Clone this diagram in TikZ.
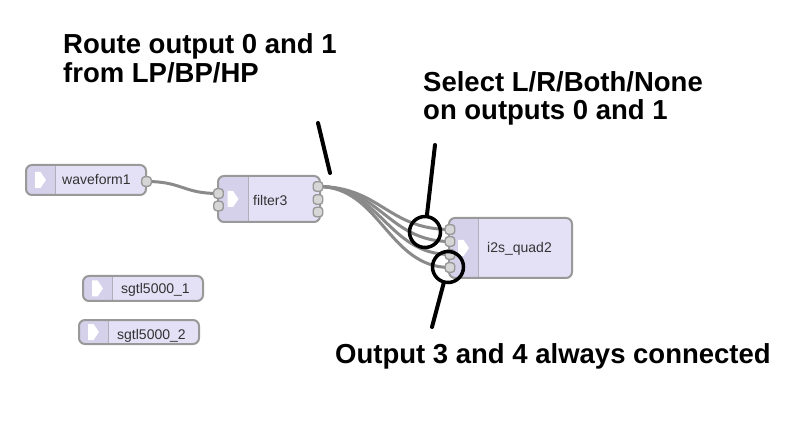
\documentclass[tikz,border=0pt]{standalone}
\usepackage{fontspec}
\setmainfont{Liberation Sans}
\definecolor{nodefill}{HTML}{E4E0F6}
\definecolor{iconfill}{HTML}{D5D1EA}
\definecolor{nodeborder}{HTML}{999999}
\definecolor{portfill}{HTML}{D6D6D6}
\definecolor{wirecol}{HTML}{8A8A8A}
\definecolor{lblcol}{HTML}{333333}
\pgfdeclarelayer{boxes}
\pgfdeclarelayer{wires}
\pgfsetlayers{boxes,wires,main}
\tikzset{
  nodebox/.style={rectangle, rounded corners=6pt, fill=nodefill, inner sep=0pt, outer sep=0pt},
  boxline/.style={draw=nodeborder, line width=2pt, rounded corners=6pt},
  divline/.style={draw=nodeborder!60!iconfill, line width=1pt},
  port/.style={rectangle, rounded corners=3pt, draw=nodeborder, fill=portfill, line width=1.4pt, minimum width=9.5pt, minimum height=9.5pt, inner sep=0pt},
  wire/.style={draw=wirecol, line width=3pt},
  lbl/.style={font=\fontsize{14}{16}\selectfont, text=lblcol, inner sep=0pt},
  note/.style={font=\fontsize{27.5}{30}\selectfont\bfseries, text=black, inner sep=0pt, anchor=base west},
  ring/.style={circle, draw=black, line width=3.5pt, minimum size=31pt, inner sep=0pt},
  pointer/.style={draw=black, line width=4pt, line cap=round}
}
% name, x1, y1, x2, y2, divider x, label x, label baseline, label
\newcommand{\audionode}[9]{%
  \begin{pgfonlayer}{boxes}
  \node[nodebox, minimum width={(#4-#2)*1pt}, minimum height={(#5-#3)*1pt}] (#1) at ({(#2+#4)/2},{(#3+#5)/2}) {};
  \begin{scope}
    \clip[rounded corners=6pt] (#1.south west) rectangle (#1.north east);
    \fill[iconfill] (#1.south west) rectangle (#6,#3);
  \end{scope}
  \draw[divline] (#6,#3) -- (#6,#5);
  \draw[boxline] (#1.south west) rectangle (#1.north east);
  \fill[white, shift={({(#2+#6)/2},{(#3+#5)/2})}] (-5.5,-8) -- (0,-8) -- (5.5,0) -- (0,8) -- (-5.5,8) -- cycle;
  \node[lbl, anchor=base west] (#1-lbl) at (#7,#8) {#9};
  \end{pgfonlayer}}
\begin{document}
\begin{tikzpicture}[x=1pt, y=-1pt]
\begin{pgfonlayer}{boxes}
\useasboundingbox[fill=white] (0,0) rectangle (787,446);
\end{pgfonlayer}

\audionode{wave}{26}{165}{146}{195}{55}{62}{185}{waveform1}
\audionode{filt}{218}{176}{320}{222}{248}{253}{206}{filter3}
\audionode{i2s}{449}{218}{572}{278}{478}{487}{253}{i2s\_quad2}
\audionode{sgtlA}{83}{276}{203}{301}{112}{121}{294}{sgtl5000\_1}
\audionode{sgtlB}{79}{320}{199}{344}{108}{117}{339}{sgtl5000\_2}

% ports
\node[port] (wout) at (146.5,181.5) {};
\node[port] (fin0) at (218.5,193.5) {};
\node[port] (fin1) at (218.5,206) {};
\node[port] (fout0) at (318,186.5) {};
\node[port] (fout1) at (318,199.5) {};
\node[port] (fout2) at (318,212) {};
\node[port] (iin0) at (450,229.5) {};
\node[port] (iin1) at (450,241.5) {};
\node[port] (iin2) at (450,254.5) {};
\node[port] (iin3) at (450,267.5) {};

% wires
\begin{pgfonlayer}{wires}
\draw[wire] (wout.center) .. controls +(36,0) and +(-36,0) .. (fin0.center);
\draw[wire] (fout0.center) .. controls +(62,0) and +(-62,0) .. (iin0.center);
\draw[wire] (fout0.center) .. controls +(62,0) and +(-62,0) .. (iin1.center);
\draw[wire] (fout0.center) .. controls +(62,0) and +(-62,0) .. (iin2.center);
\draw[wire] (fout0.center) .. controls +(62,0) and +(-62,0) .. (iin3.center);
\end{pgfonlayer}

% annotations
\node[note] (n1a) at (63,54) {Route output 0 and 1};
\node[note] (n1b) at (63,83) {from LP/BP/HP};
\node[note] (n2a) at (423,92) {Select L/R/Both/None};
\node[note] (n2b) at (423,120) {on outputs 0 and 1};
\node[note] (n3) at (335,363) {Output 3 and 4 always connected};

\node[ring] (c1) at (425,232) {};
\node[ring] (c2) at (448,267) {};
\coordinate (p1a) at (318,123);
\coordinate (p1b) at (330,173);
\coordinate (p2) at (435,145);
\coordinate (p3) at (432,327);
\draw[pointer] (p1a) -- (p1b);
\draw[pointer] (p2) -- (c1);
\draw[pointer] (p3) -- (c2);
\end{tikzpicture}
\end{document}
